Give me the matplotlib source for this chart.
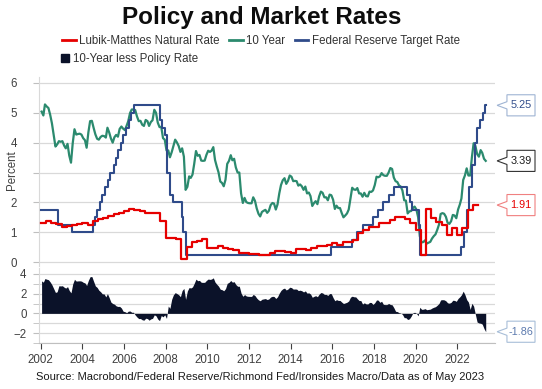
import matplotlib

matplotlib.use("Agg")
import matplotlib.pyplot as plt
import matplotlib.dates as mdates
import numpy as np
import pandas as pd
from matplotlib.lines import Line2D
from matplotlib.patches import Polygon
from matplotlib.transforms import Affine2D, ScaledTranslation, blended_transform_factory

plt.rcParams["font.family"] = ["Liberation Sans", "DejaVu Sans"]

# 10-year Treasury yield, monthly, Jan 2002 .. May 2023
ten_year = [
    5.04, 4.91, 5.28, 5.21, 5.16, 4.93, 4.65, 4.26, 3.87, 3.94, 4.05, 4.03,  # 2002
    4.05, 3.90, 3.81, 3.96, 3.57, 3.33, 3.98, 4.45, 4.27, 4.29, 4.30, 4.27,  # 2003
    4.15, 4.08, 3.83, 4.35, 4.72, 4.73, 4.50, 4.28, 4.13, 4.10, 4.19, 4.23,  # 2004
    4.22, 4.17, 4.50, 4.34, 4.14, 4.00, 4.18, 4.26, 4.20, 4.46, 4.54, 4.47,  # 2005
    4.42, 4.57, 4.72, 4.99, 5.11, 5.11, 5.09, 4.88, 4.72, 4.73, 4.60, 4.56,  # 2006
    4.76, 4.72, 4.56, 4.69, 4.75, 5.10, 5.00, 4.67, 4.52, 4.53, 4.15, 4.10,  # 2007
    3.74, 3.74, 3.51, 3.68, 3.88, 4.10, 4.01, 3.89, 3.69, 3.81, 3.53, 2.42,  # 2008
    2.52, 2.87, 2.82, 2.93, 3.29, 3.72, 3.56, 3.59, 3.40, 3.39, 3.40, 3.59,  # 2009
    3.73, 3.69, 3.73, 3.85, 3.42, 3.20, 3.01, 2.70, 2.65, 2.54, 2.76, 3.29,  # 2010
    3.39, 3.58, 3.41, 3.46, 3.17, 3.00, 3.00, 2.30, 1.98, 2.15, 2.01, 1.98,  # 2011
    1.97, 1.97, 2.17, 2.05, 1.80, 1.62, 1.53, 1.68, 1.72, 1.75, 1.65, 1.72,  # 2012
    1.91, 1.98, 1.96, 1.76, 1.93, 2.30, 2.58, 2.74, 2.81, 2.62, 2.72, 2.90,  # 2013
    2.86, 2.71, 2.72, 2.71, 2.56, 2.60, 2.54, 2.42, 2.53, 2.30, 2.33, 2.21,  # 2014
    1.88, 1.98, 2.04, 1.94, 2.20, 2.36, 2.32, 2.17, 2.17, 2.07, 2.26, 2.24,  # 2015
    2.09, 1.78, 1.89, 1.81, 1.81, 1.64, 1.50, 1.56, 1.63, 1.76, 2.14, 2.49,  # 2016
    2.43, 2.42, 2.48, 2.30, 2.30, 2.19, 2.32, 2.21, 2.20, 2.36, 2.35, 2.40,  # 2017
    2.58, 2.86, 2.84, 2.87, 2.98, 2.91, 2.89, 2.89, 3.00, 3.15, 3.12, 2.83,  # 2018
    2.71, 2.68, 2.57, 2.53, 2.40, 2.07, 2.06, 1.63, 1.70, 1.71, 1.81, 1.86,  # 2019
    1.76, 1.50, 0.87, 0.66, 0.67, 0.73, 0.62, 0.65, 0.68, 0.79, 0.87, 0.93,  # 2020
    1.08, 1.26, 1.61, 1.64, 1.62, 1.52, 1.32, 1.28, 1.37, 1.58, 1.56, 1.47,  # 2021
    1.76, 1.93, 2.13, 2.75, 2.90, 3.14, 2.90, 2.90, 3.52, 3.98, 3.89, 3.62,  # 2022
    3.53, 3.75, 3.66, 3.46, 3.39,                                            # 2023
]

# Fed funds target (upper bound): change dates and new levels
fed_dates = [
    "2002-01-01", "2002-11-06", "2003-06-25", "2004-06-30", "2004-08-10",
    "2004-09-21", "2004-11-10", "2004-12-14", "2005-02-02", "2005-03-22",
    "2005-05-03", "2005-06-30", "2005-08-09", "2005-09-20", "2005-11-01",
    "2005-12-13", "2006-01-31", "2006-03-28", "2006-05-10", "2006-06-29",
    "2007-09-18", "2007-10-31", "2007-12-11", "2008-01-22", "2008-01-30",
    "2008-03-18", "2008-04-30", "2008-10-08", "2008-10-29", "2008-12-16",
    "2015-12-16", "2016-12-14", "2017-03-15", "2017-06-14", "2017-12-13",
    "2018-03-21", "2018-06-13", "2018-09-26", "2018-12-19", "2019-07-31",
    "2019-09-18", "2019-10-30", "2020-03-03", "2020-03-15", "2022-03-16",
    "2022-05-04", "2022-06-15", "2022-07-27", "2022-09-21", "2022-11-02",
    "2022-12-14", "2023-02-01", "2023-03-22", "2023-05-03",
]
fed_rates = [
    1.75, 1.25, 1.00, 1.25, 1.50, 1.75, 2.00, 2.25, 2.50, 2.75,
    3.00, 3.25, 3.50, 3.75, 4.00, 4.25, 4.50, 4.75, 5.00, 5.25,
    4.75, 4.50, 4.25, 3.50, 3.00, 2.25, 2.00, 1.50, 1.00, 0.25,
    0.50, 0.75, 1.00, 1.25, 1.50, 1.75, 2.00, 2.25, 2.50, 2.25,
    2.00, 1.75, 1.25, 0.25, 0.50, 1.00, 1.75, 2.50, 3.25, 4.00,
    4.50, 4.75, 5.00, 5.25,
]

# Lubik-Matthes natural rate, quarterly from 2002Q1
natural = [
    1.30, 1.38, 1.30, 1.28,  # 2002
    1.17, 1.20, 1.25, 1.27,  # 2003
    1.30, 1.25, 1.36, 1.44,  # 2004
    1.48, 1.53, 1.62, 1.64,  # 2005
    1.72, 1.78, 1.75, 1.70,  # 2006
    1.66, 1.65, 1.66, 1.36,  # 2007
    0.80, 0.80, 0.78, 0.10,  # 2008
    0.50, 0.66, 0.72, 0.77,  # 2009
    0.47, 0.47, 0.55, 0.47,  # 2010
    0.45, 0.41, 0.30, 0.30,  # 2011
    0.28, 0.28, 0.24, 0.24,  # 2012
    0.30, 0.38, 0.38, 0.33,  # 2013
    0.30, 0.45, 0.45, 0.41,  # 2014
    0.48, 0.54, 0.54, 0.56,  # 2015
    0.65, 0.58, 0.69, 0.69,  # 2016
    0.75, 0.97, 1.08, 1.19,  # 2017
    1.19, 1.31, 1.31, 1.42,  # 2018
    1.50, 1.50, 1.46, 1.31,  # 2019
    1.08, 0.24, 1.78, 1.48,  # 2020
    1.33, 1.25, 0.92, 1.14,  # 2021
    0.92, 1.14, 1.73, 1.91,  # 2022
]

RED = "#E60000"
TEAL = "#2B8A6E"
BLUE = "#2F4B8A"
NAVY = "#0B1229"
GRID = "#D9D9D9"

# monthly readings placed mid-month
ty_dates = pd.date_range("2002-01-01", periods=len(ten_year), freq="MS") + pd.Timedelta(days=14)
ty = np.array(ten_year)
end = ty_dates[-1]

fd = pd.to_datetime(fed_dates).append(pd.DatetimeIndex([end]))
fr = np.array(fed_rates + [fed_rates[-1]])

nd = pd.date_range("2002-01-01", periods=len(natural), freq="QS").append(
    pd.DatetimeIndex([pd.Timestamp("2023-01-01")]))
nv = np.array(natural + [natural[-1]])

# policy rate in force at each month -> spread
idx = np.searchsorted(pd.to_datetime(fed_dates).values, ty_dates.values, side="right") - 1
spread = ty - np.array(fed_rates)[idx]

fig = plt.figure(figsize=(5.42, 3.89), dpi=100)
ax = fig.add_axes([0.0720, 0.3162, 0.8413, 0.486])
ax2 = fig.add_axes([0.0720, 0.1183, 0.8413, 0.1928])

xlim = (pd.Timestamp("2001-12-01"), pd.Timestamp("2023-10-25"))

# top panel
ax.plot(ty_dates, ty, color=TEAL, lw=1.6, zorder=3)
ax.step(fd, fr, where="post", color=BLUE, lw=1.5, zorder=4)
ax.step(nd, nv, where="post", color=RED, lw=1.6, zorder=5)
ax.set_xlim(*xlim)
ax.set_ylim(-0.13, 6.2)
ax.set_yticks(range(0, 7))
# the "3" label sits under the axis title in the original
ax.set_yticklabels(["0", "1", "2", "", "4", "5", "6"])
ax.grid(axis="y", color=GRID, lw=0.9)
ax.set_axisbelow(True)
for s in ["top", "right", "bottom"]:
    ax.spines[s].set_visible(False)
ax.spines["left"].set_color(GRID)
ax.tick_params(axis="x", bottom=False, labelbottom=False)
ax.tick_params(axis="y", length=4, color="#BFBFBF", labelsize=8.3,
               labelcolor="#404040", pad=12)

# bottom panel
ax2.fill_between(ty_dates, spread, 0, color=NAVY, lw=0, zorder=3)
ax2.set_xlim(*xlim)
ax2.set_ylim(-2.9, 4.6)
ax2.set_yticks([-2, 0, 2, 4])
ax2.set_yticks([-3, -1, 1, 3], minor=True)
ax2.grid(axis="y", which="both", color=GRID, lw=0.9)
ax2.set_axisbelow(True)
for s in ["top", "right"]:
    ax2.spines[s].set_visible(False)
ax2.spines["left"].set_color(GRID)
ax2.spines["bottom"].set_color("#BFBFBF")
ax2.xaxis.set_major_locator(mdates.YearLocator(2))
ax2.xaxis.set_major_formatter(mdates.DateFormatter("%Y"))
ax2.tick_params(axis="x", length=4, color="#404040", labelsize=8.3,
                labelcolor="#404040", pad=4)
ax2.tick_params(axis="y", which="both", length=4, color="#BFBFBF", labelsize=8.3,
                labelcolor="#404040", pad=5)


def callout(a, y, text, edge, tcolor):
    base = blended_transform_factory(a.transAxes, a.transData)
    tr = Affine2D().scale(1 / 72) + fig.dpi_scale_trans + ScaledTranslation(1.0, y, base)
    verts = [(1.5, 0), (8.6, 2.6), (8.6, 7.6), (28.8, 7.6),
             (28.8, -7.6), (8.6, -7.6), (8.6, -2.6)]
    fig.add_artist(Polygon(verts, closed=True, transform=tr, facecolor="white",
                           edgecolor=edge, lw=0.8))
    fig.text(18.7, 0, text, transform=tr, ha="center", va="center",
             fontsize=7.8, color=tcolor)


callout(ax, fr[-1], f"{fed_rates[-1]:.2f}", "#9FB4D3", BLUE)
callout(ax, ty[-1], f"{ten_year[-1]:.2f}", "#333333", "#1A1A1A")
callout(ax, nv[-1], f"{natural[-1]:.2f}", "#F08080", RED)
callout(ax2, spread[-1], f"{spread[-1]:.2f}", "#A8BED8", "#5C7AAE")

# titles / legend
fig.text(0.483, 0.954, "Policy and Market Rates", ha="center", va="center",
         fontsize=17.5, fontweight="bold", color="#0D0D0D")
fig.text(0.022, 1 - 170 / 389, "Percent", rotation=90, ha="center", va="center",
         fontsize=8.3, color="#404040")
fig.text(0.4806, 0.0308,
         "Source: Macrobond/Federal Reserve/Richmond Fed/Ironsides Macro/Data as of May 2023",
         ha="center", va="center", fontsize=8, color="#1A1A1A")

h1 = [Line2D([], [], color=RED, lw=2), Line2D([], [], color=TEAL, lw=2),
      Line2D([], [], color=BLUE, lw=2)]
leg1 = fig.legend(h1, ["Lubik-Matthes Natural Rate", "10 Year", "Federal Reserve Target Rate"],
                  loc="center left", bbox_to_anchor=(62 / 542, 1 - 41 / 389), ncol=3,
                  frameon=False, fontsize=8.3, handlelength=1.2, handletextpad=0.3,
                  columnspacing=0.8, borderpad=0, borderaxespad=0)
for t in leg1.get_texts():
    t.set_color("#333333")
h2 = [Line2D([], [], color=NAVY, marker="s", ls="none", markersize=5.5)]
leg2 = fig.legend(h2, ["10-Year less Policy Rate"], loc="center left",
                  bbox_to_anchor=(62 / 542, 1 - 59 / 389), frameon=False, fontsize=8.3,
                  handlelength=0.6, handletextpad=0.35, borderpad=0, borderaxespad=0)
for t in leg2.get_texts():
    t.set_color("#333333")

fig.savefig("out.png", dpi=100)
